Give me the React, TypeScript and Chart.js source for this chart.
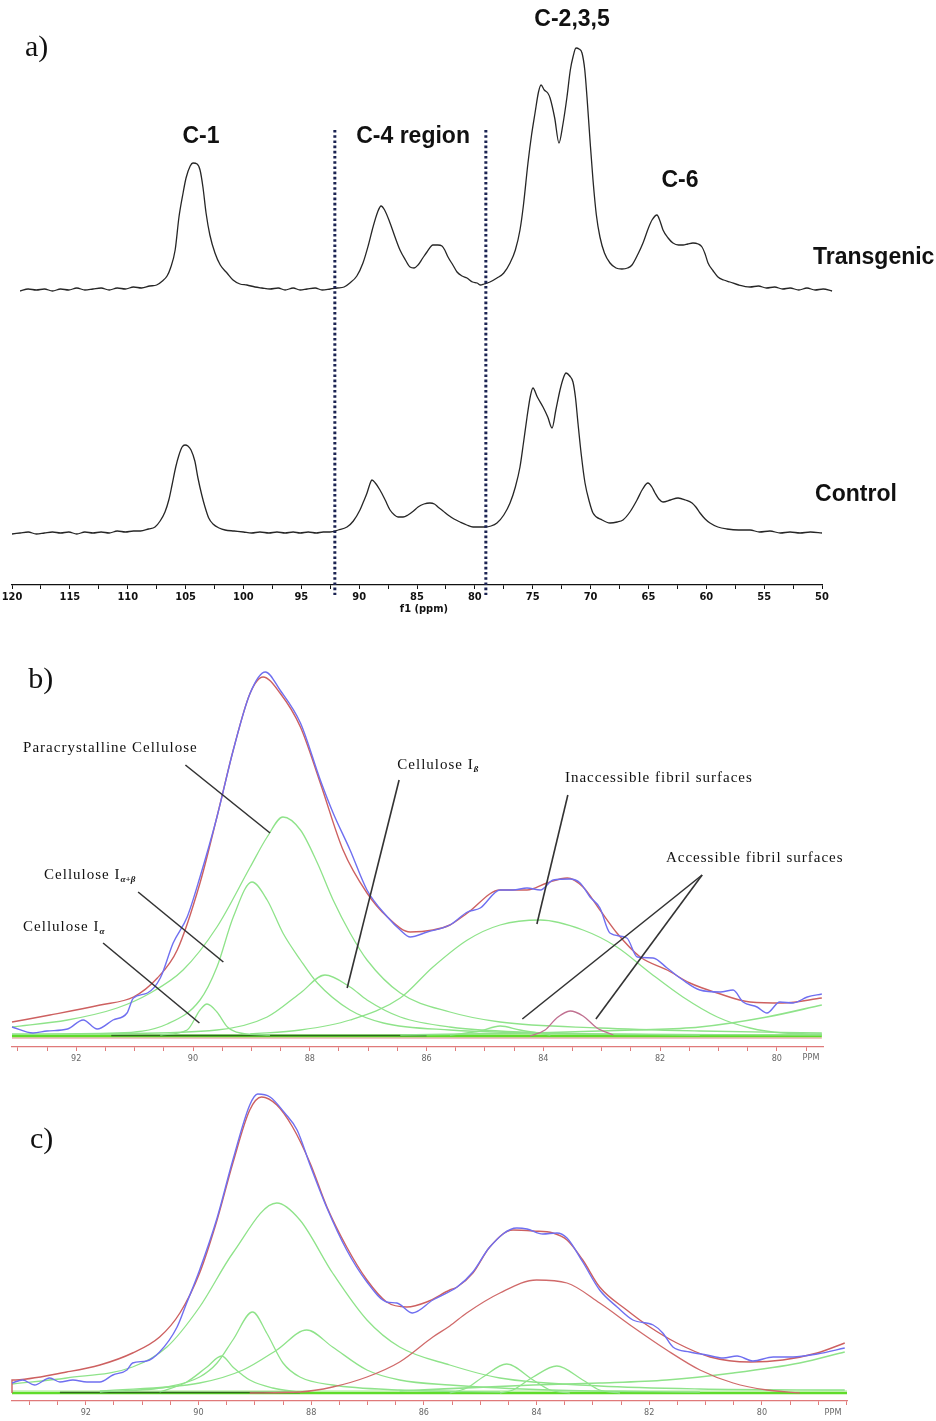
import React, { useEffect, useRef } from "react";
import { Chart, registerables } from "chart.js";

Chart.register(...registerables);

type P = [number, number];

// ---------------- Panel a: 13C spectra (ppm, intensity above own baseline) ----------------
const TRANSGENIC: P[] = [
  [119.3, -1], [118.6, 1], [117.9, 0], [117.2, 1], [116.5, -1], [115.8, 1], [115.1, 0], [114.4, 2], [113.7, 0], [113.0, 1],
  [112.3, 2], [111.6, 0], [110.9, 2], [110.2, 1], [109.5, 3], [108.8, 2], [108.1, 4], [107.5, 5], [107.0, 9], [106.6, 14],
  [106.3, 22], [105.9, 40], [105.57, 73], [105.2, 98], [104.96, 112], [104.6, 124], [104.36, 127], [104.0, 126], [103.75, 120],
  [103.5, 103], [103.23, 77], [102.9, 55], [102.46, 37], [102.0, 25], [101.42, 17], [100.9, 10], [100.3, 6], [99.7, 5], [99.0, 3],
  [98.4, 2], [97.7, 1], [97.0, 2], [96.4, 0], [95.7, 2], [95.1, 0], [94.5, 1], [93.8, 2], [93.2, 0], [92.5, 1], [91.9, 2],
  [91.3, 3], [90.8, 7], [90.2, 14], [89.67, 27], [89.2, 45], [88.8, 63], [88.4, 78], [88.11, 84], [87.8, 80], [87.33, 67],
  [86.9, 53], [86.47, 40], [86.0, 30], [85.6, 23], [85.25, 22], [84.91, 25], [84.5, 32], [84.14, 38], [83.62, 45], [83.2, 45],
  [82.84, 44], [82.6, 40], [82.32, 33], [81.9, 25], [81.54, 18], [81.1, 14], [80.68, 12], [80.2, 8], [79.81, 7], [79.5, 5],
  [79.21, 6], [78.7, 8], [78.09, 12], [77.5, 17], [76.96, 27], [76.5, 40], [76.1, 60], [75.8, 85], [75.41, 127], [75.1, 155],
  [74.8, 177], [74.5, 198], [74.28, 205], [74.0, 200], [73.7, 197], [73.5, 192], [73.1, 172], [72.73, 147], [72.4, 165],
  [72.04, 193], [71.75, 220], [71.52, 233], [71.26, 242], [71.0, 241], [70.74, 237], [70.5, 220], [70.31, 193], [70.05, 150],
  [69.79, 110], [69.5, 75], [69.19, 53], [68.8, 37], [68.32, 27], [67.8, 22], [67.29, 21], [66.8, 22], [66.42, 25], [65.9, 36],
  [65.47, 47], [65.0, 62], [64.69, 70], [64.26, 75], [64.0, 69], [63.74, 60], [63.3, 52], [62.88, 47], [62.4, 45], [62.01, 45],
  [61.6, 46], [61.15, 47], [60.7, 46], [60.37, 43], [60.1, 36], [59.85, 27], [59.4, 19], [58.99, 13], [58.5, 10], [57.95, 8],
  [57.2, 5], [56.22, 3], [55.5, 4], [54.8, 2], [54.1, 3], [53.4, 1], [52.76, 2], [52.0, 0], [51.3, 2], [50.6, 0], [49.9, 1], [49.13, -1],
];

const CONTROL: P[] = [
  [120.0, -1], [119.3, 0], [118.6, 1], [117.9, -1], [117.2, 0], [116.5, 1], [115.8, 0], [115.1, 1], [114.4, -1], [113.7, 1],
  [113.0, 0], [112.3, 1], [111.6, 0], [110.9, 2], [110.2, 1], [109.5, 2], [108.9, 2], [108.2, 4], [107.64, 6], [107.2, 12],
  [106.78, 21], [106.45, 33], [106.17, 48], [105.85, 66], [105.57, 78], [105.3, 86], [105.05, 88], [104.8, 87], [104.53, 83],
  [104.2, 72], [103.93, 55], [103.6, 38], [103.32, 26], [103.0, 15], [102.63, 9], [102.1, 5], [101.59, 3], [100.8, 2], [100.0, 1],
  [99.3, 0], [98.57, 1], [97.8, 0], [97.1, 1], [96.4, 0], [95.7, 1], [95.1, 0], [94.4, 1], [93.7, 0], [93.1, 1], [92.52, 1],
  [91.8, 3], [91.05, 6], [90.5, 12], [89.93, 23], [89.6, 32], [89.32, 40], [89.1, 48], [88.89, 53], [88.6, 50], [88.2, 43],
  [87.75, 33], [87.33, 23], [86.95, 18], [86.64, 16], [86.2, 16], [85.78, 18], [85.3, 22], [84.91, 26], [84.4, 29], [83.88, 30],
  [83.5, 29], [83.19, 26], [82.75, 22], [82.32, 18], [81.8, 14], [81.28, 11], [80.7, 8], [80.16, 6], [79.6, 6], [79.12, 6],
  [78.6, 7], [78.09, 10], [77.5, 18], [76.96, 30], [76.5, 46], [76.1, 66], [75.8, 90], [75.49, 116], [75.2, 137], [74.98, 145],
  [74.6, 136], [74.11, 126], [73.7, 116], [73.33, 105], [73.0, 123], [72.64, 143], [72.35, 155], [72.12, 160], [71.8, 157],
  [71.52, 151], [71.3, 135], [71.09, 110], [70.8, 78], [70.48, 50], [70.1, 31], [69.79, 20], [69.0, 13], [68.32, 10], [67.7, 11],
  [67.2, 13], [66.6, 21], [65.99, 33], [65.5, 44], [65.04, 50], [64.7, 46], [64.43, 40], [64.1, 34], [63.74, 31], [63.1, 33],
  [62.44, 35], [61.8, 33], [61.23, 30], [60.9, 26], [60.54, 20], [60.1, 14], [59.68, 10], [59.0, 6], [58.21, 4], [57.2, 3],
  [56.22, 3], [55.4, 1], [54.5, 2], [53.6, 0], [52.76, 1], [51.9, 0], [51.0, 1], [50.0, 0],
];

const TRANSGENIC_OFFSET = 295;
const CONTROL_OFFSET = 52;
const A_TICK_LABELS = [120, 115, 110, 105, 100, 95, 90, 85, 80, 75, 70, 65, 60, 55, 50];
const C4_REGION: number[] = [92.1, 79.05];

// ---------------- Panel b: C-4 deconvolution, transgenic ----------------
const B_EXPERIMENT: P[] = [
  [93.1, 9], [92.74, 3], [92.5, 5], [92.15, 7], [91.88, 16], [91.64, 7], [91.37, 16], [91.13, 23], [91.02, 38], [90.78, 43],
  [90.56, 58], [90.34, 93], [90.1, 119], [89.88, 159], [89.59, 219], [89.31, 286], [89.02, 343], [88.76, 364], [88.51, 346],
  [88.16, 313], [87.82, 256], [87.6, 223], [87.31, 186], [87.02, 146], [86.67, 119], [86.45, 106], [86.28, 99], [85.99, 104],
  [85.6, 111], [85.3, 124], [85.08, 128], [84.74, 146], [84.52, 146], [84.28, 148], [84.05, 146], [83.83, 156], [83.54, 157],
  [83.37, 153], [83.2, 139], [83.03, 128], [82.86, 103], [82.57, 98], [82.39, 79], [82.12, 78], [81.88, 68], [81.61, 56],
  [81.32, 46], [80.97, 44], [80.75, 46], [80.58, 34], [80.34, 29], [80.17, 23], [79.95, 34], [79.72, 33], [79.48, 39], [79.23, 42],
];
const B_FIT: P[] = [
  [93.1, 14], [92.45, 21], [91.59, 31], [91.02, 39], [90.61, 58], [90.27, 86], [89.88, 153], [89.59, 219], [89.31, 286],
  [89.02, 343], [88.8, 359], [88.51, 343], [88.16, 309], [87.82, 253], [87.43, 186], [87.02, 143], [86.67, 119], [86.28, 104],
  [85.89, 106], [85.6, 111], [85.3, 123], [84.74, 146], [84.28, 146], [83.94, 153], [83.59, 158], [83.32, 149], [83.03, 126],
  [82.74, 103], [82.34, 79], [81.88, 66], [81.49, 53], [81.02, 43], [80.46, 34], [79.89, 33], [79.23, 38],
];
const B_PARACRYSTALLINE: P[] = [
  [93.1, 9], [92.15, 16], [91.3, 28], [90.73, 43], [90.17, 66], [89.59, 109], [89.02, 169], [88.73, 199], [88.46, 219],
  [88.16, 206], [87.87, 173], [87.6, 136], [87.31, 103], [87.02, 76], [86.45, 43], [85.6, 24], [84.74, 14], [83.03, 8],
  [81.32, 5], [79.23, 3],
];
const B_I_ALPHA_BETA: P[] = [
  [93.1, 2], [91.3, 3], [90.44, 12], [89.88, 36], [89.59, 69], [89.31, 119], [88.99, 154], [88.73, 136], [88.46, 103],
  [88.16, 76], [87.87, 53], [87.31, 26], [86.74, 13], [85.6, 6], [83.03, 2], [79.23, 1],
];
const B_I_ALPHA: P[] = [
  [90.56, 1], [90.1, 6], [89.88, 26], [89.76, 32], [89.59, 24], [89.41, 9], [89.19, 3], [88.68, 1],
];
const B_I_BETA: P[] = [
  [91.59, 2], [89.59, 6], [88.73, 19], [88.16, 43], [87.74, 61], [87.31, 49], [87.02, 36], [86.45, 19], [85.6, 9],
  [83.88, 3], [81.32, 1],
];
const B_INACCESSIBLE: P[] = [
  [89.02, 2], [88.16, 6], [87.31, 16], [86.45, 38], [85.89, 69], [85.3, 96], [84.74, 111], [84.05, 116], [83.32, 106],
  [82.74, 89], [82.17, 63], [81.61, 39], [81.02, 19], [80.46, 8], [79.89, 3], [79.23, 2],
];
const B_ACCESSIBLE_1: P[] = [[85.6, 1], [85.08, 5], [84.74, 10], [84.4, 6], [83.88, 1]];
const B_ACCESSIBLE_2: P[] = [[84.23, 0], [83.97, 6], [83.77, 18], [83.54, 25], [83.32, 20], [83.08, 8], [82.8, 1]];
const B_BROAD_RIGHT: P[] = [[86.45, 1], [84.17, 3], [82.46, 6], [81.32, 9], [80.17, 19], [79.23, 31]];
const B_LABELS = [92, 90, 88, 86, 84, 82, 80];

// ---------------- Panel c: C-4 deconvolution, control ----------------
const C_EXPERIMENT: P[] = [
  [93.31, 10], [93.12, 13], [92.91, 8], [92.64, 15], [92.46, 11], [92.23, 13], [91.98, 11], [91.75, 11], [91.52, 18], [91.27, 23],
  [91.17, 30], [90.92, 32], [90.69, 41], [90.38, 66], [90.21, 90], [89.98, 123], [89.67, 175], [89.39, 233], [89.09, 288],
  [88.95, 299], [88.73, 296], [88.47, 280], [88.25, 263], [88.02, 228], [87.72, 185], [87.37, 143], [87.01, 111], [86.66, 91],
  [86.48, 90], [86.2, 80], [85.84, 93], [85.41, 106], [85.13, 121], [84.83, 146], [84.35, 165], [84.17, 164], [83.89, 159],
  [83.64, 160], [83.46, 155], [83.18, 131], [82.88, 103], [82.57, 86], [82.29, 73], [81.93, 68], [81.76, 60], [81.58, 46],
  [81.28, 41], [80.98, 38], [80.69, 35], [80.44, 37], [80.16, 32], [79.8, 36], [79.45, 36], [79.02, 39], [78.53, 45],
];
const C_FIT: P[] = [
  [93.31, 0], [93.31, 13], [92.34, 21], [91.75, 28], [91.17, 40], [90.69, 56], [90.33, 80], [89.98, 120], [89.67, 173],
  [89.39, 230], [89.09, 283], [88.88, 296], [88.61, 288], [88.33, 266], [88.02, 230], [87.72, 186], [87.37, 146], [87.01, 113],
  [86.66, 91], [86.3, 86], [85.95, 91], [85.54, 103], [85.41, 106], [85.13, 120], [84.83, 146], [84.42, 163], [84.06, 162],
  [83.71, 160], [83.46, 153], [83.18, 133], [82.88, 106], [82.4, 83], [81.99, 66], [81.51, 50], [80.92, 36], [80.21, 31],
  [79.63, 33], [79.02, 40], [78.53, 50],
];
const C_COMP_886: P[] = [
  [93.31, 9], [92.34, 15], [91.17, 26], [90.56, 46], [89.98, 86], [89.39, 140], [88.61, 190], [88.2, 173], [87.62, 120],
  [87.01, 73], [86.43, 46], [85.54, 28], [84.65, 15], [82.88, 7], [81.1, 4], [78.53, 3],
];
const C_COMP_890: P[] = [
  [91.75, 1], [90.56, 6], [89.98, 16], [89.67, 30], [89.39, 53], [89.04, 81], [88.79, 60], [88.5, 30], [88.2, 16], [87.62, 8],
  [86.43, 3], [84.65, 1],
];
const C_COMP_895: P[] = [[90.69, 1], [90.21, 11], [89.85, 26], [89.59, 37], [89.39, 26], [89.09, 13], [88.68, 5], [88.2, 1]];
const C_COMP_881: P[] = [
  [91.75, 2], [89.98, 10], [89.21, 23], [88.61, 43], [88.08, 63], [87.62, 46], [87.01, 23], [86.43, 13], [85.54, 8],
  [83.76, 3], [81.1, 1],
];
const C_COMP_840: P[] = [
  [89.09, 0], [88.2, 1], [87.62, 6], [87.01, 16], [86.43, 31], [85.84, 56], [85.54, 67], [85.24, 80], [84.65, 100], [84.0, 113],
  [83.46, 110], [82.88, 90], [82.29, 66], [81.69, 43], [81.1, 23], [80.51, 10], [79.91, 3], [79.33, 0],
];
const C_COMP_845: P[] = [[85.54, 0], [85.24, 5], [84.95, 16], [84.53, 29], [84.06, 13], [83.76, 3], [83.41, 0]];
const C_COMP_836: P[] = [[84.65, 0], [84.42, 3], [84.06, 16], [83.64, 27], [83.18, 13], [82.88, 3], [82.52, 0]];
const C_BROAD_RIGHT: P[] = [[86.43, 2], [84.06, 8], [82.88, 10], [81.69, 13], [80.51, 20], [79.33, 30], [78.53, 41]];
const C_LABELS = [92, 90, 88, 86, 84, 82, 80];

// ---------------- helpers ----------------
const range = (a: number, b: number, s: number) => {
  const out: number[] = [];
  for (let v = a; v <= b + 1e-9; v += s) out.push(Math.round(v * 100) / 100);
  return out;
};

const line = (pts: P[], color: string, width = 1.3, extra: any = {}) => ({
  data: pts.map(([x, y]) => ({ x, y })),
  borderColor: color,
  backgroundColor: color,
  borderWidth: width,
  pointRadius: 0,
  fill: false,
  cubicInterpolationMode: "monotone",
  clip: false,
  ...extra,
});

type Txt = {
  text: string; sub?: string; x: number; y: number; font: string; subFont?: string;
  align?: CanvasTextAlign; color?: string; spacing?: string;
};
type Seg = { x1: number; y1: number; x2: number; y2: number; color: string; width: number; dash?: number[] };

const overlay = (id: string, segs: Seg[], texts: Txt[], extra?: (chart: any) => void) => ({
  id,
  afterDraw(chart: any) {
    const { ctx } = chart;
    const xs = chart.scales.x;
    const ys = chart.scales.y;
    ctx.save();
    segs.forEach((s) => {
      ctx.beginPath();
      ctx.strokeStyle = s.color;
      ctx.lineWidth = s.width;
      ctx.setLineDash(s.dash || []);
      ctx.moveTo(xs.getPixelForValue(s.x1), ys.getPixelForValue(s.y1));
      ctx.lineTo(xs.getPixelForValue(s.x2), ys.getPixelForValue(s.y2));
      ctx.stroke();
    });
    ctx.setLineDash([]);
    texts.forEach((t) => {
      const px = xs.getPixelForValue(t.x);
      const py = ys.getPixelForValue(t.y);
      ctx.font = t.font;
      (ctx as any).letterSpacing = t.spacing || "0px";
      ctx.fillStyle = t.color || "#111";
      ctx.textBaseline = "middle";
      ctx.textAlign = t.align || "left";
      ctx.fillText(t.text, px, py);
      if (t.sub) {
        const w = ctx.measureText(t.text).width;
        ctx.font = t.subFont || t.font;
        (ctx as any).letterSpacing = "0px";
        ctx.textAlign = "left";
        ctx.fillText(t.sub, px + w, py + 5);
      }
      (ctx as any).letterSpacing = "0px";
    });
    if (extra) extra(chart);
    ctx.restore();
  },
});

const baseOptions = (o: {
  min: number; max: number; ymin: number; ymax: number; padL: number; padR: number; axisH: number;
  ticks: number[]; labels: number[]; axisColor: string; tickColor: string; labelFont: any; labelColor: string; tickLen: number; labelPad: number;
}) => ({
  responsive: false,
  maintainAspectRatio: false,
  animation: false,
  events: [],
  layout: { padding: { left: o.padL, right: o.padR, top: 0, bottom: 0 } },
  plugins: { legend: { display: false }, tooltip: { enabled: false }, title: { display: false } },
  scales: {
    x: {
      type: "linear",
      reverse: true,
      min: o.min,
      max: o.max,
      afterFit: (s: any) => {
        s.height = o.axisH;
      },
      afterBuildTicks: (s: any) => {
        s.ticks = o.ticks.map((v) => ({ value: v }));
      },
      ticks: {
        autoSkip: false,
        maxRotation: 0,
        minRotation: 0,
        padding: o.labelPad,
        color: o.labelColor,
        font: o.labelFont,
        callback: (v: any) => (o.labels.includes(Math.round(Number(v) * 100) / 100) ? String(v) : ""),
      },
      grid: { drawOnChartArea: false, drawTicks: true, tickLength: o.tickLen, color: o.tickColor, lineWidth: 1 },
      border: { display: true, color: o.axisColor, width: 1.3 },
    },
    y: { display: false, min: o.ymin, max: o.ymax },
  },
});

const SERIF = '"Liberation Serif", "Times New Roman", serif';
const SANS = '"Liberation Sans", Arial, sans-serif';
const NARROW = '"Liberation Sans Narrow", "DejaVu Sans Condensed", "Liberation Sans", Arial, sans-serif';

const BLUE = "#6f6ff0";
const RED = "#cd6060";
const GREEN = "#8fe38a";
const PINK = "#c07090";
const BASE_GREEN = "#5fdc2a";
const DARK_GREEN = "#2f6a1c";

export default function App() {
  const refA = useRef<HTMLCanvasElement>(null);
  const refB = useRef<HTMLCanvasElement>(null);
  const refC = useRef<HTMLCanvasElement>(null);

  useEffect(() => {
    const charts: Chart[] = [];

    // ---------- Panel a ----------
    const shift = (pts: P[], off: number): P[] => pts.map(([x, y]) => [x, y + off]);
    const aFont = `bold 23px ${SANS}`;
    const aOpts: any = baseOptions({
      min: 50, max: 120, ymin: 0, ymax: 585, padL: 12, padR: 114, axisH: 40,
      ticks: range(50, 120, 2.5), labels: A_TICK_LABELS, axisColor: "#111", tickColor: "#111",
      labelFont: { family: NARROW, size: 11, weight: "bold" }, labelColor: "#111", tickLen: 4, labelPad: 2,
    });
    charts.push(
      new Chart(refA.current as HTMLCanvasElement, {
        type: "line",
        data: {
          datasets: [
            line(shift(TRANSGENIC, TRANSGENIC_OFFSET), "#262626", 1.3),
            line(shift(CONTROL, CONTROL_OFFSET), "#262626", 1.3),
          ] as any,
        },
        options: aOpts,
        plugins: [
          overlay(
            "panelA",
            C4_REGION.map((p) => ({ x1: p, y1: 455, x2: p, y2: -10, color: "#1b2352", width: 3, dash: [2.6, 2.6] })),
            [
              { text: "a)", x: 118.88, y: 537, font: `30px ${SERIF}` },
              { text: "C-1", x: 103.67, y: 448, font: aFont, align: "center" },
              { text: "C-4 region", x: 85.34, y: 448, font: aFont, align: "center" },
              { text: "C-2,3,5", x: 71.6, y: 565, font: aFont, align: "center" },
              { text: "C-6", x: 62.27, y: 404, font: aFont, align: "center" },
              { text: "Transgenic", x: 50.78, y: 327, font: aFont },
              { text: "Control", x: 50.6, y: 90, font: aFont },
              { text: "f1 (ppm)", x: 84.4, y: -24, font: `bold 11px ${NARROW}`, align: "center" },
            ]
          ),
        ],
      } as any)
    );

    // ---------- Panel b ----------
    const bLabel = `15px ${SERIF}`;
    const bSub = `italic bold 9px ${SERIF}`;
    const callout = "#333333";
    const sp = "1px";
    const bOpts: any = baseOptions({
      min: 79.21, max: 93.1, ymin: -11, ymax: 396, padL: 12, padR: 113, axisH: 23,
      ticks: range(79.5, 93, 0.5), labels: B_LABELS, axisColor: "#e07a7a", tickColor: "#e07a7a",
      labelFont: { family: NARROW, size: 9 }, labelColor: "#666", tickLen: 4, labelPad: 2,
    });
    charts.push(
      new Chart(refB.current as HTMLCanvasElement, {
        type: "line",
        data: {
          datasets: [
            line(B_EXPERIMENT, BLUE, 1.4),
            line(B_FIT, RED, 1.4),
            line(B_ACCESSIBLE_2, PINK, 1.3),
            line(B_PARACRYSTALLINE, GREEN, 1.3),
            line(B_I_ALPHA_BETA, GREEN, 1.3),
            line(B_I_ALPHA, GREEN, 1.3),
            line(B_I_BETA, GREEN, 1.3),
            line(B_INACCESSIBLE, GREEN, 1.3),
            line(B_ACCESSIBLE_1, GREEN, 1.3),
            line(B_BROAD_RIGHT, GREEN, 1.6),
            line([[91.4, 0.5], [86.0, 0.5]], DARK_GREEN, 1.5),
            line([[93.1, 1.5], [79.23, 1.5]], "#a8ec90", 1.2),
            line([[93.1, 0], [79.23, 0]], BASE_GREEN, 2.6),
            line([[93.1, -2], [79.23, -2]], "#e08a8a", 1.2),
          ] as any,
        },
        options: bOpts,
        plugins: [
          overlay(
            "panelB",
            [
              { x1: 90.13, y1: 271, x2: 88.68, y2: 203, color: callout, width: 1.6 },
              { x1: 90.94, y1: 144, x2: 89.48, y2: 74, color: callout, width: 1.6 },
              { x1: 91.54, y1: 93, x2: 89.89, y2: 13, color: callout, width: 1.6 },
              { x1: 86.47, y1: 256, x2: 87.36, y2: 48, color: callout, width: 1.6 },
              { x1: 83.58, y1: 241, x2: 84.11, y2: 112, color: callout, width: 1.6 },
              { x1: 81.28, y1: 161, x2: 84.36, y2: 17, color: callout, width: 1.6 },
              { x1: 81.28, y1: 161, x2: 83.1, y2: 17, color: callout, width: 1.6 },
            ],
            [
              { text: "b)", x: 92.82, y: 356, font: `30px ${SERIF}` },
              { text: "Paracrystalline Cellulose", x: 92.91, y: 288, font: bLabel, spacing: sp },
              { text: "Cellulose I", sub: "α+β", x: 92.55, y: 161, font: bLabel, subFont: bSub, spacing: sp },
              { text: "Cellulose I", sub: "α", x: 92.91, y: 109, font: bLabel, subFont: bSub, spacing: sp },
              { text: "Cellulose I", sub: "ß", x: 86.5, y: 271, font: bLabel, subFont: bSub, spacing: sp },
              { text: "Inaccessible fibril surfaces", x: 83.63, y: 258, font: bLabel, spacing: sp },
              { text: "Accessible fibril surfaces", x: 81.9, y: 178, font: bLabel, spacing: sp },
            ],
            (chart) => {
              const { ctx, chartArea } = chart;
              ctx.font = `9px ${NARROW}`;
              ctx.fillStyle = "#666";
              ctx.textAlign = "center";
              ctx.textBaseline = "middle";
              ctx.fillText("PPM", chartArea.right - 12, chartArea.bottom + 11);
            }
          ),
        ],
      } as any)
    );

    // ---------- Panel c ----------
    const cOpts: any = baseOptions({
      min: 78.49, max: 93.31, ymin: -8, ymax: 318, padL: 12, padR: 89, axisH: 20,
      ticks: range(78.5, 93, 0.5), labels: C_LABELS, axisColor: "#e07a7a", tickColor: "#e07a7a",
      labelFont: { family: NARROW, size: 9 }, labelColor: "#666", tickLen: 4, labelPad: 2,
    });
    charts.push(
      new Chart(refC.current as HTMLCanvasElement, {
        type: "line",
        data: {
          datasets: [
            line(C_EXPERIMENT, BLUE, 1.4),
            line(C_FIT, RED, 1.4),
            line(C_COMP_840, "#d06a6a", 1.3),
            line(C_COMP_886, GREEN, 1.3),
            line(C_COMP_890, GREEN, 1.3),
            line(C_COMP_895, GREEN, 1.3),
            line(C_COMP_881, GREEN, 1.3),
            line(C_COMP_845, GREEN, 1.3),
            line(C_COMP_836, GREEN, 1.3),
            line(C_BROAD_RIGHT, GREEN, 1.6),
            line([[92.46, 0.5], [88.2, 0.5]], DARK_GREEN, 1.6),
            line([[93.31, 2], [78.49, 2]], "#a8ec90", 1.2),
            line([[93.31, 0], [78.49, 0]], BASE_GREEN, 2.6),
          ] as any,
        },
        options: cOpts,
        plugins: [
          overlay("panelC", [], [{ text: "c)", x: 92.99, y: 253, font: `30px ${SERIF}` }], (chart) => {
            const { ctx, chartArea } = chart;
            ctx.font = `9px ${NARROW}`;
            ctx.fillStyle = "#666";
            ctx.textAlign = "center";
            ctx.textBaseline = "middle";
            ctx.fillText("PPM", chartArea.right - 14, chartArea.bottom + 12);
          }),
        ],
      } as any)
    );

    return () => charts.forEach((c) => c.destroy());
  }, []);

  const cv = (top: number): React.CSSProperties => ({ position: "absolute", left: 0, top, display: "block" });

  return (
    <div style={{ position: "absolute", left: 0, top: 0, width: 936, height: 1421, background: "#fff", overflow: "hidden" }}>
      <canvas ref={refA} width={936} height={625} style={cv(0)} />
      <canvas ref={refB} width={936} height={430} style={cv(640)} />
      <canvas ref={refC} width={936} height={346} style={cv(1075)} />
    </div>
  );
}
